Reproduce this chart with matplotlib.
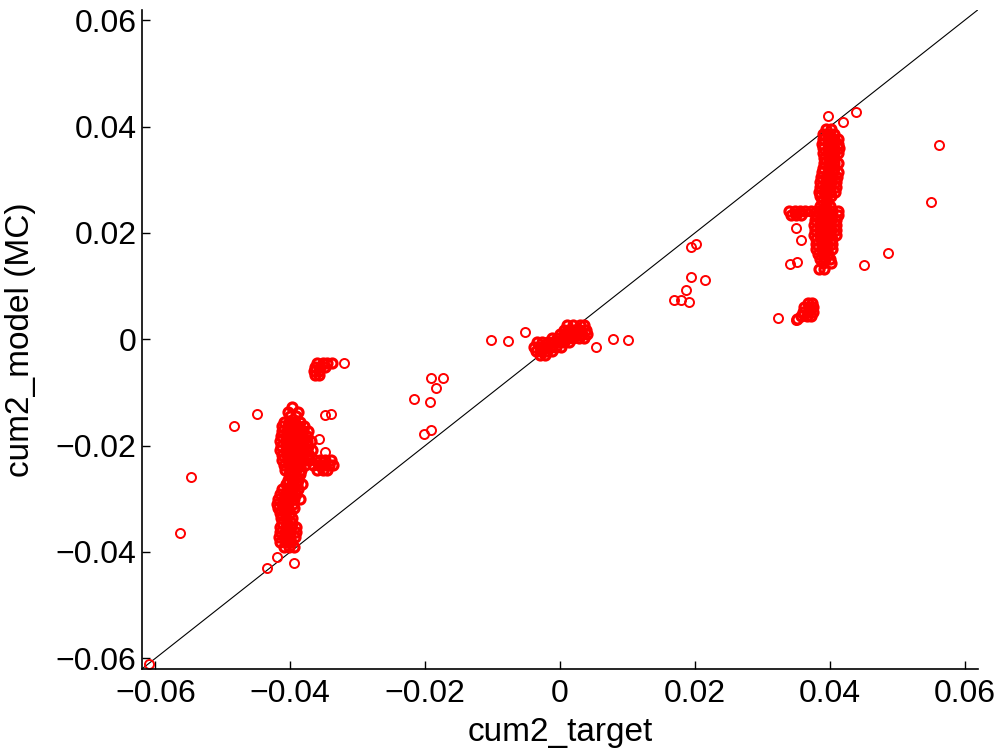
import matplotlib
matplotlib.use('Agg')
import matplotlib.pyplot as plt
from matplotlib.ticker import FuncFormatter

# ---- data ----
ticks = [-0.06, -0.04, -0.02, 0, 0.02, 0.04, 0.06]
lims = [-0.062, 0.062]

# dense groups: rows of (y, [x values])
left_rows = [
    (-0.0128, [-0.0397]),
    (-0.0136, [-0.0404, -0.0388]),
    (-0.0145, [-0.0400, -0.0392]),
    (-0.0155, [-0.0410, -0.0402, -0.0394, -0.0386]),
    (-0.0164, [-0.0412, -0.0404, -0.0396, -0.0388, -0.0380]),
    (-0.0173, [-0.0413, -0.0405, -0.0397, -0.0389, -0.0381, -0.0374]),
    (-0.0182, [-0.0414, -0.0406, -0.0398, -0.0390, -0.0382, -0.0375]),
    (-0.0191, [-0.0415, -0.0407, -0.0399, -0.0391, -0.0383, -0.0376, -0.0369]),
    (-0.0200, [-0.0414, -0.0406, -0.0398, -0.0390, -0.0382, -0.0374]),
    (-0.0209, [-0.0415, -0.0407, -0.0399, -0.0391, -0.0383, -0.0375, -0.0368]),
    (-0.0218, [-0.0413, -0.0405, -0.0397, -0.0389, -0.0381, -0.0373]),
    (-0.0227, [-0.0412, -0.0404, -0.0396, -0.0388, -0.0380, -0.0372, -0.0364, -0.0356, -0.0348, -0.0340]),
    (-0.0236, [-0.0410, -0.0402, -0.0394, -0.0386, -0.0378, -0.0366, -0.0358, -0.0350, -0.0342, -0.0337]),
    (-0.0245, [-0.0408, -0.0400, -0.0392, -0.0384, -0.0360, -0.0352, -0.0345]),
    (-0.0254, [-0.0402, -0.0394, -0.0386]),
    (-0.0264, [-0.0404, -0.0396, -0.0388]),
    (-0.0273, [-0.0406, -0.0398, -0.0390, -0.0382]),
    (-0.0282, [-0.0412, -0.0404, -0.0396, -0.0388]),
    (-0.0291, [-0.0416, -0.0408, -0.0400, -0.0392]),
    (-0.0300, [-0.0418, -0.0410, -0.0402, -0.0394, -0.0386]),
    (-0.0309, [-0.0420, -0.0412, -0.0404, -0.0396]),
    (-0.0318, [-0.0419, -0.0411, -0.0403, -0.0395]),
    (-0.0327, [-0.0416, -0.0408, -0.0400]),
    (-0.0336, [-0.0414, -0.0406, -0.0398]),
    (-0.0345, [-0.0413, -0.0405, -0.0397]),
    (-0.0354, [-0.0415, -0.0407, -0.0399, -0.0392]),
    (-0.0363, [-0.0416, -0.0408, -0.0400, -0.0392]),
    (-0.0372, [-0.0417, -0.0409, -0.0401, -0.0393]),
    (-0.0381, [-0.0415, -0.0407, -0.0399]),
    (-0.0390, [-0.0410, -0.0402, -0.0395]),
]

left_top_rows = [
    (-0.0045, [-0.0360, -0.0352, -0.0345, -0.0338]),
    (-0.0052, [-0.0364, -0.0356, -0.0349]),
    (-0.0060, [-0.0365, -0.0358]),
    (-0.0068, [-0.0364, -0.0357]),
]

center_rows = [
    (-0.0030, [-0.0030, -0.0022]),
    (-0.0022, [-0.0036, -0.0028, -0.0020, -0.0012]),
    (-0.0014, [-0.0038, -0.0030, -0.0022, -0.0014, -0.0006, 0.0002]),
    (-0.0006, [-0.0034, -0.0026, -0.0018, -0.0010, -0.0002, 0.0006, 0.0014]),
    (0.0002, [-0.0012, -0.0004, 0.0004, 0.0012, 0.0020, 0.0028, 0.0036]),
    (0.0010, [0.0000, 0.0008, 0.0016, 0.0024, 0.0032, 0.0040]),
    (0.0018, [0.0006, 0.0014, 0.0022, 0.0030, 0.0038]),
    (0.0026, [0.0010, 0.0020, 0.0030, 0.0036]),
]

right_rows = [
    (0.0395, [0.0394, 0.0402]),
    (0.0386, [0.0390, 0.0398, 0.0406]),
    (0.0377, [0.0390, 0.0398, 0.0406, 0.0413]),
    (0.0368, [0.0389, 0.0397, 0.0405, 0.0413]),
    (0.0359, [0.0390, 0.0398, 0.0406, 0.0414]),
    (0.0350, [0.0390, 0.0398, 0.0406, 0.0413]),
    (0.0341, [0.0391, 0.0399, 0.0407]),
    (0.0332, [0.0391, 0.0399, 0.0407, 0.0413]),
    (0.0323, [0.0390, 0.0398, 0.0406]),
    (0.0314, [0.0389, 0.0397, 0.0405, 0.0412]),
    (0.0305, [0.0387, 0.0395, 0.0403, 0.0411]),
    (0.0296, [0.0386, 0.0394, 0.0402, 0.0410]),
    (0.0287, [0.0385, 0.0393, 0.0401, 0.0409]),
    (0.0278, [0.0384, 0.0392, 0.0400, 0.0408]),
    (0.0269, [0.0386, 0.0394, 0.0402]),
    (0.0260, [0.0388, 0.0396]),
    (0.0251, [0.0385, 0.0393, 0.0401]),
    (0.0242, [0.0340, 0.0348, 0.0356, 0.0364, 0.0372, 0.0380, 0.0388, 0.0396, 0.0404, 0.0412]),
    (0.0233, [0.0342, 0.0350, 0.0358, 0.0380, 0.0388, 0.0396, 0.0404, 0.0412]),
    (0.0224, [0.0378, 0.0386, 0.0394, 0.0402, 0.0410]),
    (0.0215, [0.0377, 0.0385, 0.0393, 0.0401, 0.0409]),
    (0.0206, [0.0378, 0.0386, 0.0394, 0.0402, 0.0410]),
    (0.0197, [0.0377, 0.0385, 0.0393, 0.0401, 0.0409]),
    (0.0188, [0.0379, 0.0387, 0.0395, 0.0403]),
    (0.0179, [0.0380, 0.0388, 0.0396, 0.0404]),
    (0.0170, [0.0380, 0.0388, 0.0396, 0.0404]),
    (0.0161, [0.0382, 0.0390, 0.0398]),
    (0.0152, [0.0385, 0.0393, 0.0401]),
    (0.0143, [0.0390, 0.0402]),
    (0.0133, [0.0384, 0.0392]),
]

right_low_rows = [
    (0.0068, [0.0368, 0.0374]),
    (0.0060, [0.0362, 0.0370, 0.0375]),
    (0.0052, [0.0360, 0.0368, 0.0375]),
    (0.0044, [0.0358, 0.0366, 0.0373]),
    (0.0038, [0.0352]),
]

# single scattered points
single_x = [-0.0610, -0.0563, -0.0548, -0.0484, -0.0449, -0.0321, -0.0435, -0.0420, -0.0395,
            -0.0348, -0.0340, -0.0358, -0.0349,
            -0.0192, -0.0174, -0.0184, -0.0216, -0.0193, -0.0202, -0.0192,
            -0.0102, -0.0077, -0.0052, 0.0053, 0.0079, 0.0101,
            0.0194, 0.0201, 0.0194, 0.0215, 0.0187, 0.0169, 0.0179, 0.0191,
            0.0397, 0.0420, 0.0439, 0.0562, 0.0550, 0.0486, 0.0451,
            0.0350, 0.0357, 0.0341, 0.0351, 0.0402, 0.0323, 0.0350]
single_y = [-0.0610, -0.0365, -0.0260, -0.0164, -0.0141, -0.0045, -0.0430, -0.0410, -0.0421,
            -0.0143, -0.0140, -0.0188, -0.0212,
            -0.0072, -0.0073, -0.0092, -0.0113, -0.0118, -0.0179, -0.0171,
            -0.0002, -0.0004, 0.0013, -0.0015, 0.0000, -0.0002,
            0.0173, 0.0179, 0.0117, 0.0111, 0.0092, 0.0073, 0.0073, 0.0070,
            0.0420, 0.0408, 0.0427, 0.0365, 0.0258, 0.0162, 0.0139,
            0.0210, 0.0186, 0.0141, 0.0145, 0.0143, 0.0041, 0.0036]


def unpack(rows):
    xs, ys = [], []
    for y, row in rows:
        for x in row:
            xs.append(x)
            ys.append(y)
    return xs, ys


dense_x, dense_y = [], []
for rows in [left_rows, left_top_rows, center_rows, right_rows, right_low_rows]:
    a, b = unpack(rows)
    dense_x += a
    dense_y += b

plt.rcParams['font.family'] = ['Liberation Sans', 'DejaVu Sans']

fig = plt.figure(figsize=(10, 7.49), dpi=100)
ax = fig.add_axes([0.142, 0.107, 0.836, 0.880])

ax.plot(lims, lims, color='black', lw=0.8)
# overlapping rings in the dense groups merge into solid blobs
ax.plot(dense_x, dense_y, 'o', ls='none', mfc='none', mec='red', ms=6.5, mew=2.3)
ax.plot(single_x, single_y, 'o', ls='none', mfc='none', mec='red', ms=6.5, mew=1.4)

ax.set_xlim(lims)
ax.set_ylim(lims)
ax.set_xticks(ticks)
ax.set_yticks(ticks)
fmt = FuncFormatter(lambda v, p: '0' if abs(v) < 1e-9 else ('%.2f' % v).replace('-', '\u2212'))
ax.xaxis.set_major_formatter(fmt)
ax.yaxis.set_major_formatter(fmt)
ax.tick_params(direction='in', length=6, width=1, labelsize=23)
ax.tick_params(axis='x', pad=7)
ax.tick_params(axis='y', pad=4)
ax.spines['top'].set_visible(False)
ax.spines['right'].set_visible(False)
ax.spines['left'].set_linewidth(1.2)
ax.spines['bottom'].set_linewidth(1.2)

ax.set_xlabel('cum2_target', fontsize=24, labelpad=6)
ax.set_ylabel('cum2_model (MC)', fontsize=24, labelpad=14)

fig.savefig('out.png', dpi=100)
